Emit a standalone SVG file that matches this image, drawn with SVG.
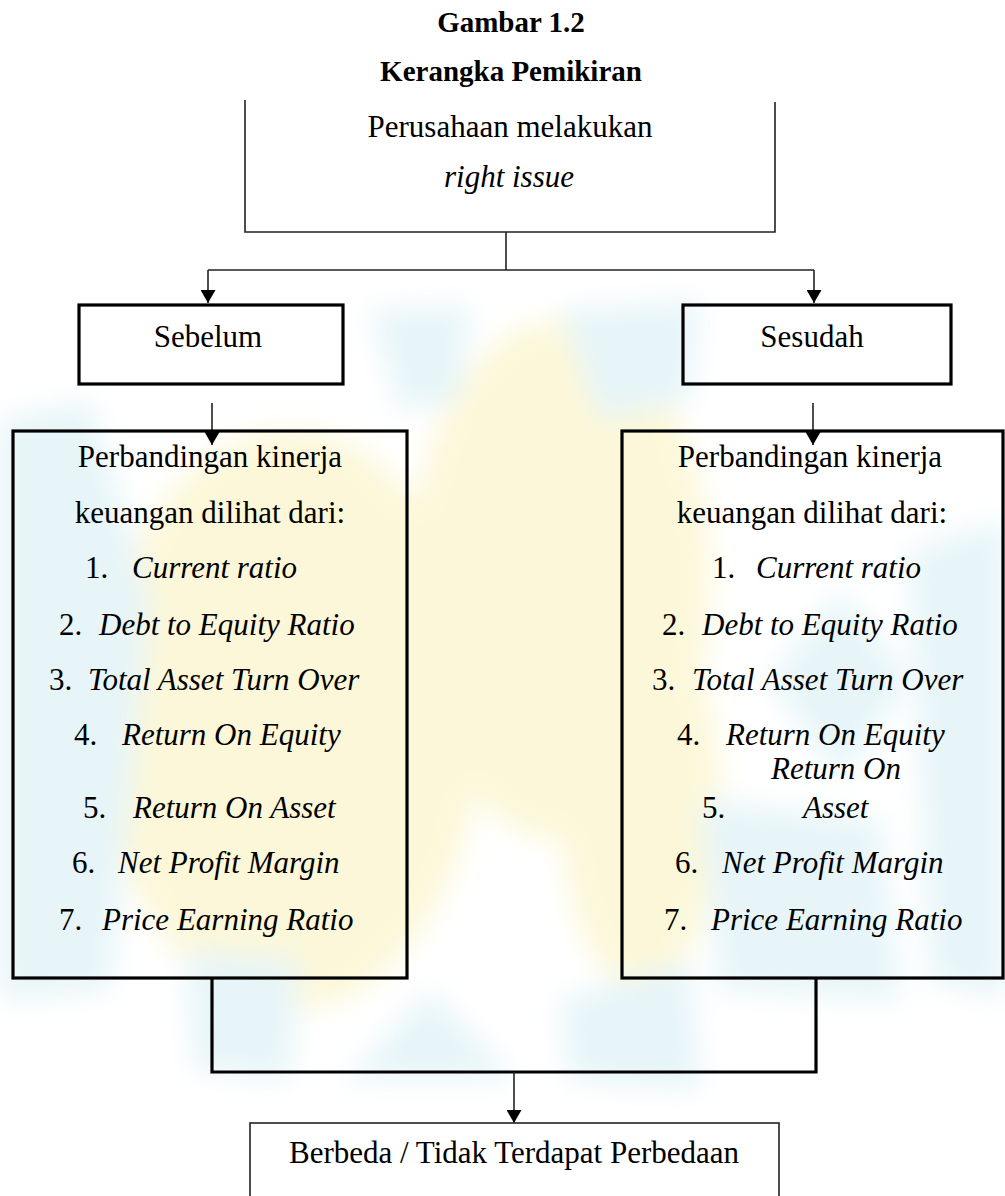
<svg xmlns="http://www.w3.org/2000/svg" width="1005" height="1196" viewBox="0 0 1005 1196">
<style>
.t{font-family:'Liberation Serif','Times New Roman',serif;font-size:31px;fill:#000}
.i{font-style:italic}
.h{font-family:'Liberation Serif','Times New Roman',serif;font-size:29px;font-weight:bold;fill:#000}
.thin{fill:none;stroke:#222;stroke-width:1.6}
.thick{fill:none;stroke:#000;stroke-width:3.2}
.box{fill:none;stroke:#000;stroke-width:3.2}
.wy{fill:#fbf5cc}
.wc{fill:#dff2f6}
</style>
<defs>
<marker id="arr" viewBox="0 0 13 15" refX="13" refY="7.5" markerWidth="13" markerHeight="15" markerUnits="userSpaceOnUse" orient="auto">
<path d="M0,0 L13,7.5 L0,15 z" fill="#000"/>
</marker>
<filter id="blur" x="-20%" y="-20%" width="140%" height="140%"><feGaussianBlur stdDeviation="14"/></filter>
</defs>
<rect width="1005" height="1196" fill="#fff"/>
<g id="watermark" filter="url(#blur)" opacity="0.75">
<ellipse class="wy" cx="290" cy="720" rx="190" ry="290"/>
<ellipse class="wy" cx="560" cy="580" rx="150" ry="260"/>
<ellipse class="wy" cx="640" cy="800" rx="80" ry="190"/>
<polygon class="wc" points="0,420 90,400 150,600 110,990 0,1000"/>
<polygon class="wc" points="370,310 470,305 460,400 400,410"/>
<polygon class="wc" points="560,310 700,300 690,400 600,420"/>
<polygon class="wc" points="840,590 910,680 840,780 770,680"/>
<polygon class="wc" points="910,550 1005,520 1005,1000 930,980"/>
<polygon class="wc" points="185,950 300,960 290,1080 195,1070"/>
<polygon class="wc" points="345,1080 430,990 515,1080"/>
<polygon class="wc" points="560,1000 690,960 700,1090 570,1080"/>
<polygon class="wc" points="700,800 880,820 900,1000 720,990"/>
</g>
<g id="title">
<text class="h" x="511" y="32" text-anchor="middle">Gambar 1.2</text>
<text class="h" x="511" y="81" text-anchor="middle">Kerangka Pemikiran</text>
</g>
<g id="connectors">
<path class="thin" d="M506,232 V270"/>
<path class="thin" d="M208,270 H814"/>
<path class="thin" d="M208,270 V303" marker-end="url(#arr)"/>
<path class="thin" d="M814,270 V303" marker-end="url(#arr)"/>
<path class="thin" d="M212,403 V445" marker-end="url(#arr)"/>
<path class="thin" d="M813,403 V445" marker-end="url(#arr)"/>
<path class="thick" d="M212,978 V1072 H816 V978"/>
<path class="thin" d="M514,1072 V1123" marker-end="url(#arr)"/>
</g>
<g id="node-perusahaan">
<path class="thin" d="M245,100 V232 H775 V102"/>
<text class="t" x="510" y="137" text-anchor="middle">Perusahaan melakukan</text>
<text class="t i" x="509" y="187" text-anchor="middle">right issue</text>
</g>
<g id="node-sebelum">
<rect class="box" x="79" y="305" width="264" height="79" fill="#fff" fill-opacity="0"/>
<text class="t" x="208" y="347" text-anchor="middle">Sebelum</text>
</g>
<g id="node-sesudah">
<rect class="box" x="683" y="305" width="268" height="79"/>
<text class="t" x="812" y="347" text-anchor="middle">Sesudah</text>
</g>
<g id="node-kinerja-sebelum">
<rect class="box" x="13" y="431" width="394" height="547"/>
<text class="t" x="210" y="467" text-anchor="middle">Perbandingan kinerja</text>
<text class="t" x="210" y="523" text-anchor="middle">keuangan dilihat dari:</text>
<text class="t" x="85" y="578">1.</text><text class="t i" x="132" y="578">Current ratio</text>
<text class="t" x="59" y="635">2.</text><text class="t i" x="99" y="635">Debt to Equity Ratio</text>
<text class="t" x="49" y="690">3.</text><text class="t i" x="88" y="690">Total Asset Turn Over</text>
<text class="t" x="74" y="745">4.</text><text class="t i" x="122" y="745">Return On Equity</text>
<text class="t" x="83" y="818">5.</text><text class="t i" x="133" y="818">Return On Asset</text>
<text class="t" x="72" y="873">6.</text><text class="t i" x="118" y="873">Net Profit Margin</text>
<text class="t" x="59" y="930">7.</text><text class="t i" x="102" y="930">Price Earning Ratio</text>
</g>
<g id="node-kinerja-sesudah">
<rect class="box" x="622" y="431" width="381" height="547"/>
<text class="t" x="810" y="467" text-anchor="middle">Perbandingan kinerja</text>
<text class="t" x="812" y="523" text-anchor="middle">keuangan dilihat dari:</text>
<text class="t" x="712" y="578">1.</text><text class="t i" x="756" y="578">Current ratio</text>
<text class="t" x="662" y="635">2.</text><text class="t i" x="702" y="635">Debt to Equity Ratio</text>
<text class="t" x="652" y="690">3.</text><text class="t i" x="692" y="690">Total Asset Turn Over</text>
<text class="t" x="677" y="745">4.</text><text class="t i" x="726" y="745">Return On Equity</text>
<text class="t i" x="771" y="779">Return On</text>
<text class="t" x="702" y="818">5.</text><text class="t i" x="803" y="818">Asset</text>
<text class="t" x="675" y="873">6.</text><text class="t i" x="722" y="873">Net Profit Margin</text>
<text class="t" x="664" y="930">7.</text><text class="t i" x="711" y="930">Price Earning Ratio</text>
</g>
<g id="node-hasil">
<rect class="thin" x="250" y="1123" width="529" height="120"/>
<text class="t" x="514" y="1163" text-anchor="middle">Berbeda / Tidak Terdapat Perbedaan</text>
</g>
</svg>
